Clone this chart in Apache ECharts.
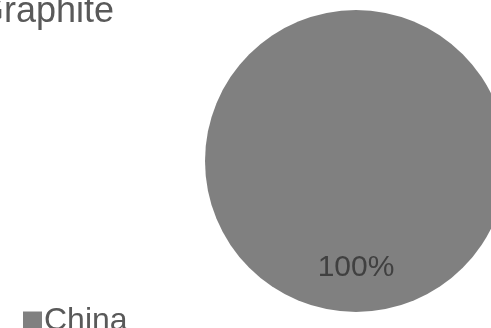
<!DOCTYPE html>
<html>
<head>
<meta charset="utf-8">
<style>
  html, body { margin: 0; padding: 0; background: #ffffff; }
  #chart { width: 491px; height: 328px; }
</style>
<script src="https://cdn.jsdelivr.net/npm/echarts@6/dist/echarts.min.js"></script>
</head>
<body>
<div id="chart"></div>
<script>
// Share of graphite production by country
const chartTitle = 'Graphite';
const countries = ['China'];
const shares = [100];
const sliceColors = ['#808080'];

const chart = echarts.init(document.getElementById('chart'), null, { renderer: 'canvas' });

chart.setOption({
  animation: false,
  backgroundColor: '#ffffff',
  title: {
    text: chartTitle,
    left: -29,
    top: -11,
    textStyle: {
      fontFamily: 'Liberation Sans, Arial, sans-serif',
      fontSize: 36,
      fontWeight: 'normal',
      color: '#595959'
    }
  },
  legend: {
    data: countries,
    left: 18,
    top: 300,
    icon: 'rect',
    itemWidth: 19,
    itemHeight: 19,
    itemGap: 4,
    textStyle: {
      fontFamily: 'Liberation Sans, Arial, sans-serif',
      fontSize: 32,
      color: '#595959',
      padding: [0, 0, 0, -3]
    }
  },
  series: [{
    type: 'pie',
    center: [356, 161],
    radius: [0, 151],
    startAngle: 90,
    clockwise: true,
    data: countries.map((name, i) => ({
      name: name,
      value: shares[i],
      itemStyle: { color: sliceColors[i] }
    })),
    label: {
      show: true,
      position: 'inside',
      formatter: params => Math.round(params.percent) + '%',
      offset: [0, 28],
      fontFamily: 'Liberation Sans, Arial, sans-serif',
      fontSize: 30,
      color: '#404040'
    },
    labelLine: { show: false },
    emphasis: { disabled: true }
  }]
});
</script>
</body>
</html>
